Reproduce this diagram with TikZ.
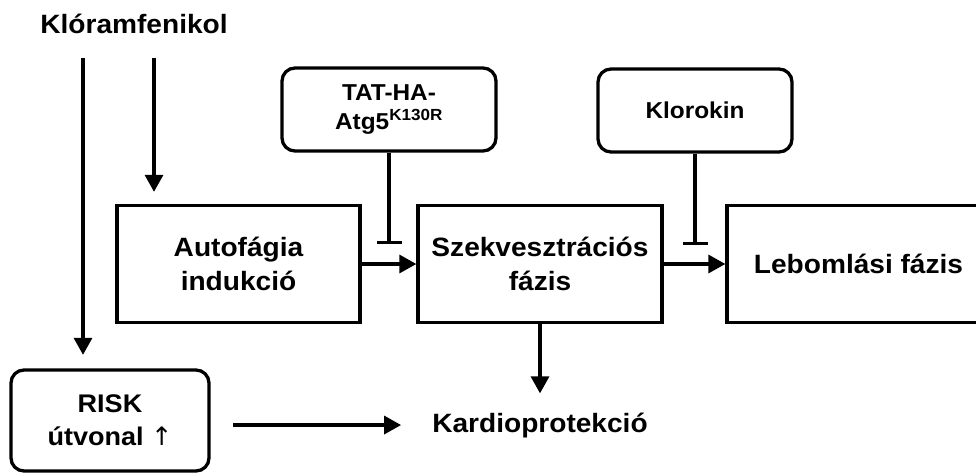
\documentclass[tikz,border=0pt]{standalone}
\usepackage{fontspec}
\setmainfont{Liberation Sans}[FakeStretch=1.06]
\newfontfamily\arrowfont{DejaVu Sans}
\usetikzlibrary{arrows.meta}
\begin{document}
\begin{tikzpicture}[x=1pt,y=-1pt,
  big/.style={font=\fontsize{26.5}{34}\selectfont\bfseries, align=center},
  small/.style={font=\fontsize{23}{29}\selectfont\bfseries, align=center},
  sqbox/.style={draw, line width=3.3pt, inner sep=0pt},
  rbox/.style={draw, line width=3.3pt, rounded corners=13pt, inner sep=0pt},
  arr/.style={line width=3.3pt, -{Triangle[length=17pt,width=18pt]}},
  inh/.style={line width=3.3pt, -{Bar[width=25pt]}},
]
\useasboundingbox (0,0) rectangle (976,473);
% texts
\node[big] (klor0) at (134,24) {Klóramfenikol};
\node[big, inner sep=0pt, anchor=base] (kardio) at (540,432) {Kardioprotekció};
% boxes
\node[sqbox, big, minimum width=243pt, minimum height=117pt] (auto) at (238.5,264) {Autofágia\\indukció};
\node[sqbox, big, minimum width=244pt, minimum height=117pt] (szek) at (540,264) {Szekvesztrációs\\fázis};
\node[sqbox, big, minimum width=263pt, minimum height=117pt] (leb) at (858.5,264) {Lebomlási fázis};
\node[rbox, small, minimum width=214pt, minimum height=83pt] (tat) at (389,109.5) {TAT-HA-\\Atg5\textsuperscript{K130R}};
\node[rbox, small, minimum width=194pt, minimum height=83pt] (klorokin) at (695,110.5) {Klorokin};
\node[rbox, big, font=\fontsize{25.5}{33}\selectfont\bfseries, minimum width=198pt, minimum height=101pt] (risk) at (110,420.5) {RISK\\útvonal {\arrowfont\mdseries ↑}};
% coordinates
\coordinate (k1) at (83,58);
\coordinate (k2) at (154,58);
\coordinate (b1) at (389,244);
\coordinate (b2) at (695,245);
% connectors
\draw[arr, shorten >=13.5pt] (k1) -- (k1 |- risk.north);
\draw[arr, shorten >=12pt] (k2) -- (k2 |- auto.north);
\draw[arr] (auto) -- (szek);
\draw[arr] (szek) -- (leb);
\draw[inh] (tat.south) -- (b1);
\draw[inh] (klorokin.south) -- (b2);
\draw[arr, shorten >=19pt] (szek.south) -- (kardio.north);
\draw[arr, shorten <=22.5pt, shorten >=31pt] (risk.east |- kardio.west) -- (kardio.west);
\end{tikzpicture}
\end{document}
